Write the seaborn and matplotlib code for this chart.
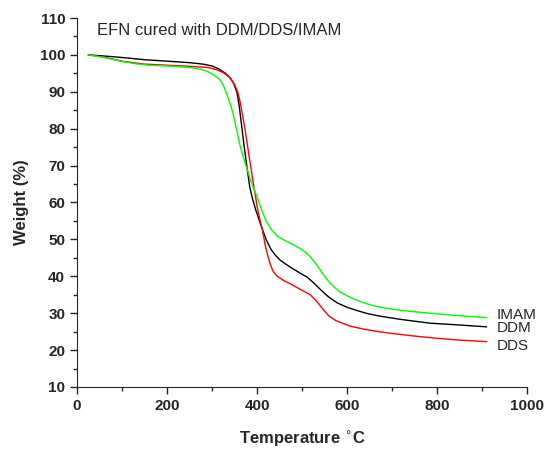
import numpy as np
import pandas as pd
import matplotlib.pyplot as plt
import seaborn as sns
from matplotlib.ticker import MultipleLocator

# TGA curves
temp_ddm = [25, 60, 100, 150, 200, 250, 280, 300, 315, 330, 340, 348, 355, 360, 365, 370, 377,
            384, 390, 397, 404, 411, 420, 430, 440, 451, 465, 480, 495, 511, 525, 540, 558,
            578, 600, 620, 645, 673, 720, 784, 850, 910]
wt_ddm = [100, 99.7, 99.3, 98.7, 98.3, 97.9, 97.5, 97.0, 96.2, 95.0, 93.8, 92.3, 90.0, 86.5, 81.5, 76.5, 70.0,
          64.0, 61.0, 58.0, 55.5, 53.0, 50.0, 47.5, 45.8, 44.4, 43.2, 42.0, 40.9, 39.8, 38.3, 36.5, 34.5,
          32.8, 31.6, 30.8, 29.9, 29.2, 28.3, 27.3, 26.8, 26.3]

temp_dds = [25, 60, 100, 150, 200, 250, 290, 310, 325, 340, 350, 357, 362, 368, 375, 383, 392,
            400, 406, 412, 418, 424, 430, 436, 445, 460, 475, 488, 503, 518, 532, 547, 560,
            575, 591, 610, 636, 670, 700, 750, 800, 850, 910]
wt_dds = [100, 99.4, 98.3, 97.5, 97.2, 96.9, 96.6, 96.0, 95.2, 93.8, 92.0, 90.0, 87.5, 83.5, 78.5, 72.0, 65.0,
          59.0, 55.5, 52.5, 48.5, 45.5, 43.0, 41.3, 40.0, 38.8, 37.9, 37.0, 36.0, 35.0, 33.3, 31.0, 29.2,
          28.0, 27.2, 26.4, 25.7, 25.0, 24.5, 23.8, 23.2, 22.7, 22.3]

temp_imam = [25, 60, 100, 130, 160, 200, 250, 275, 290, 305, 318, 326, 334, 341, 347, 355, 362,
             370, 378, 385, 392, 400, 410, 420, 432, 444, 457, 470, 483, 496, 508, 518, 530,
             540, 550, 560, 572, 584, 600, 620, 640, 666, 700, 740, 784, 850, 910]
wt_imam = [100, 99.3, 98.2, 97.6, 97.2, 97.0, 96.6, 96.1, 95.5, 94.5, 93.2, 91.5, 89.0, 86.5, 84.0, 79.5, 75.5,
           72.0, 69.0, 66.3, 64.0, 61.5, 58.0, 55.0, 52.6, 51.0, 50.0, 49.2, 48.4, 47.5, 46.5, 45.3, 43.5,
           41.8, 40.0, 38.5, 37.0, 35.8, 34.7, 33.6, 32.7, 31.8, 31.1, 30.5, 30.0, 29.3, 28.8]

series = ["DDM", "DDS", "IMAM"]
colors = ["#000000", "#ff0000", "#00ff00"]
label_y = [26.0, 21.1, 29.5]

df = pd.concat([
    pd.DataFrame({"T": temp_ddm, "W": wt_ddm, "s": "DDM"}),
    pd.DataFrame({"T": temp_dds, "W": wt_dds, "s": "DDS"}),
    pd.DataFrame({"T": temp_imam, "W": wt_imam, "s": "IMAM"}),
])

sns.set_style("ticks")
plt.rcParams['font.family'] = ['Liberation Sans', 'DejaVu Sans']

fig = plt.figure(figsize=(5.48, 4.5), dpi=100)
ax = fig.add_axes([0.1405, 0.14, 0.8215, 0.82])

sns.lineplot(data=df, x="T", y="W", hue="s", palette=dict(zip(series, colors)),
             linewidth=1.0, legend=False, ax=ax, sort=False)

for s, c, y in zip(series, colors, label_y):
    ax.text(933, y, s, fontsize=11, va="center", ha="left")

ax.text(44, 106.5, "EFN cured with DDM/DDS/IMAM", fontsize=12, va="center")

ax.set_xlim(0, 1000)
ax.set_ylim(10, 110)
ax.xaxis.set_major_locator(MultipleLocator(200))
ax.xaxis.set_minor_locator(MultipleLocator(100))
ax.yaxis.set_major_locator(MultipleLocator(10))
ax.yaxis.set_minor_locator(MultipleLocator(5))
ax.tick_params(which="major", direction="out", length=5, width=1, labelsize=11)
ax.tick_params(which="minor", direction="out", length=3, width=1)
for lab in ax.get_xticklabels() + ax.get_yticklabels():
    lab.set_fontweight("bold")

sns.despine(ax=ax)
ax.set_xlabel("Temperature $^{\\circ}$C", fontsize=12, fontweight="bold", labelpad=12)
ax.set_ylabel("Weight (%)", fontsize=12, fontweight="bold", labelpad=8)

fig.savefig("out.png", dpi=100)
